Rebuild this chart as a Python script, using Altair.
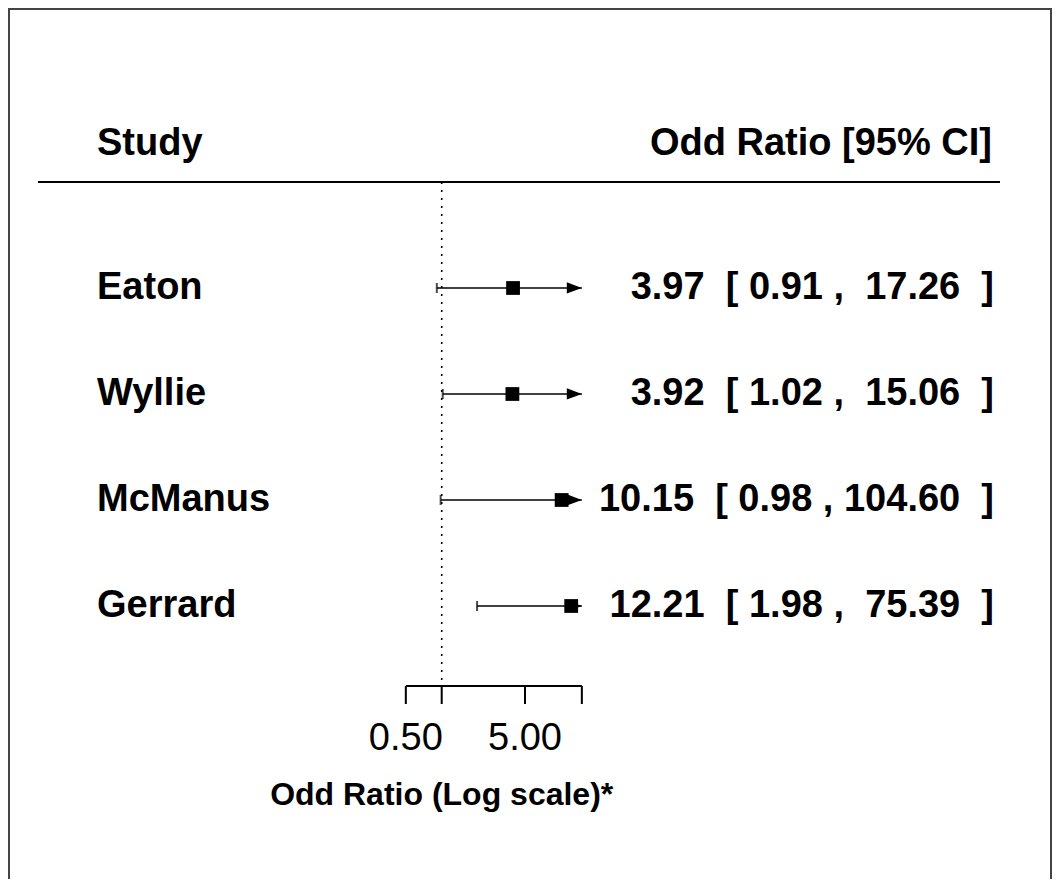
import math
import altair as alt
import pandas as pd

# ---- data ----
studies = ["Eaton", "Wyllie", "McManus", "Gerrard"]
or_est = [3.97, 3.92, 10.15, 12.21]
ci_low = [0.91, 1.02, 0.98, 1.98]
ci_high = [17.26, 15.06, 104.60, 75.39]
rows = [4, 3, 2, 1]
axis_ticks = [0.5, 1, 5, 15]
label_ticks = [0.5, 5]
label_text = ["0.50", "5.00"]
alim = [0.5, 15]

# ---- layout ----
W, H = 1044, 871
FONT = "Liberation Sans"
FS = 38
NB = "\u00a0"

x_scale = alt.Scale(type="log", domain=[math.exp(-8.3807), math.exp(11.7933)],
                    range=[0, W], nice=False)
y_scale = alt.Scale(domain=[-1.5755, 6.6415], range=[H, 0], nice=False, zero=False)

HEADER_ROW = 5
HEADER_TEXT_ROW = 5.354
AXIS_ROW = 0.2453
TICK_END_ROW = 0.0755
TICK_LABEL_ROW = -0.255
TITLE_ROW = -0.783
RIGHT_X = 986
LEFT_X = 89


def fmt(e, lo, hi):
    hs = f"{hi:.2f}"
    pad = NB if len(hs) < 6 else ""
    return f"{e:.2f}{NB} [ {lo:.2f} , {pad}{hs}{NB} ]"


df = pd.DataFrame({
    "study": studies,
    "est": or_est,
    "lo": ci_low,
    "hi": ci_high,
    "row": rows,
})
df["lo_c"] = df["lo"].clip(lower=alim[0])
df["hi_c"] = df["hi"].clip(upper=alim[1])
df["label"] = [fmt(e, l, h) for e, l, h in zip(or_est, ci_low, ci_high)]

X = lambda f: alt.X(f, scale=x_scale, axis=None)
Y = lambda f: alt.Y(f, scale=y_scale, axis=None)

base = alt.Chart(df)

frame = alt.layer(
    alt.Chart(df).mark_rule(color="#444444", strokeWidth=2).encode(
        x=alt.value(1), y=alt.value(0), y2=alt.value(H)),
    alt.Chart(df).mark_rule(color="#444444", strokeWidth=2).encode(
        x=alt.value(0), x2=alt.value(W), y=alt.value(1)),
    alt.Chart(df).mark_rule(color="#444444", strokeWidth=2).encode(
        x=alt.value(W - 1), y=alt.value(0), y2=alt.value(H)),
)

header_line = alt.Chart(pd.DataFrame({"r": [HEADER_ROW]})).mark_rule(
    color="black", strokeWidth=2).encode(
    x=alt.value(30), x2=alt.value(992), y=Y("r:Q"))

ref_line = alt.Chart(pd.DataFrame({"v": [1], "r1": [HEADER_ROW], "r2": [AXIS_ROW]})).mark_rule(
    color="black", strokeWidth=1.6, strokeDash=[2, 6]).encode(
    x=X("v:Q"), y=Y("r1:Q"), y2="r2:Q")

ci = base.mark_rule(color="black", strokeWidth=1.6).encode(
    x=X("lo_c:Q"), x2="hi_c:Q", y=Y("row:Q"))

whisk = base.transform_filter(f"datum.lo >= {alim[0]}").mark_tick(
    color="black", orient="vertical", size=10, thickness=2).encode(
    x=X("lo:Q"), y=Y("row:Q"))

arrows = base.transform_filter(f"datum.hi > {alim[1]}").transform_calculate(
    xa=str(alim[1])).mark_point(
    shape="M-2,-0.75L0,0L-2,0.75Z", filled=True, color="black", opacity=1,
    size=225, strokeWidth=0).encode(
    x=X("xa:Q"), y=Y("row:Q"))

squares = base.mark_square(color="black", opacity=1, size=190).encode(
    x=X("est:Q"), y=Y("row:Q"))

study_text = base.mark_text(align="left", baseline="middle", font=FONT,
                            fontSize=FS, fontWeight="bold", color="black").encode(
    x=alt.value(LEFT_X), y=Y("row:Q"), text="study:N")

value_text = base.mark_text(align="right", baseline="middle", font=FONT,
                            fontSize=FS, fontWeight="bold", color="black").encode(
    x=alt.value(RIGHT_X), y=Y("row:Q"), text="label:N")

hdr = pd.DataFrame({"r": [HEADER_TEXT_ROW], "a": ["Study"], "b": ["Odd Ratio [95% CI]"]})
hdr_left = alt.Chart(hdr).mark_text(align="left", baseline="middle", font=FONT,
                                    fontSize=FS, fontWeight="bold", color="black").encode(
    x=alt.value(LEFT_X), y=Y("r:Q"), text="a:N")
hdr_right = alt.Chart(hdr).mark_text(align="right", baseline="middle", font=FONT,
                                     fontSize=FS, fontWeight="bold", color="black").encode(
    x=alt.value(RIGHT_X - 2), y=Y("r:Q"), text="b:N")

axis_line = alt.Chart(pd.DataFrame({"a": [alim[0]], "b": [alim[1]], "r": [AXIS_ROW]})).mark_rule(
    color="black", strokeWidth=2).encode(x=X("a:Q"), x2="b:Q", y=Y("r:Q"))

ticks = alt.Chart(pd.DataFrame({"v": axis_ticks, "r1": AXIS_ROW, "r2": TICK_END_ROW})).mark_rule(
    color="black", strokeWidth=2).encode(x=X("v:Q"), y=Y("r1:Q"), y2="r2:Q")

tick_labels = alt.Chart(pd.DataFrame({"v": label_ticks, "t": label_text, "r": TICK_LABEL_ROW})).mark_text(
    align="center", baseline="middle", font=FONT, fontSize=FS, color="black").encode(
    x=X("v:Q"), y=Y("r:Q"), text="t:N")

title = alt.Chart(pd.DataFrame({"v": [1], "r": [TITLE_ROW], "t": ["Odd Ratio (Log scale)*"]})).mark_text(
    align="center", baseline="middle", font=FONT, fontSize=32, fontWeight="bold", color="black").encode(
    x=X("v:Q"), y=Y("r:Q"), text="t:N")

chart = alt.layer(
    frame, header_line, ref_line, ci, whisk, arrows, squares,
    study_text, value_text, hdr_left, hdr_right,
    axis_line, ticks, tick_labels, title,
).properties(
    width=W, height=H, padding=0, autosize=alt.AutoSizeParams(type="none"),
    background="white",
).configure_view(stroke=None)

chart.save("out.html", embed_options={"renderer": "svg", "actions": False})
